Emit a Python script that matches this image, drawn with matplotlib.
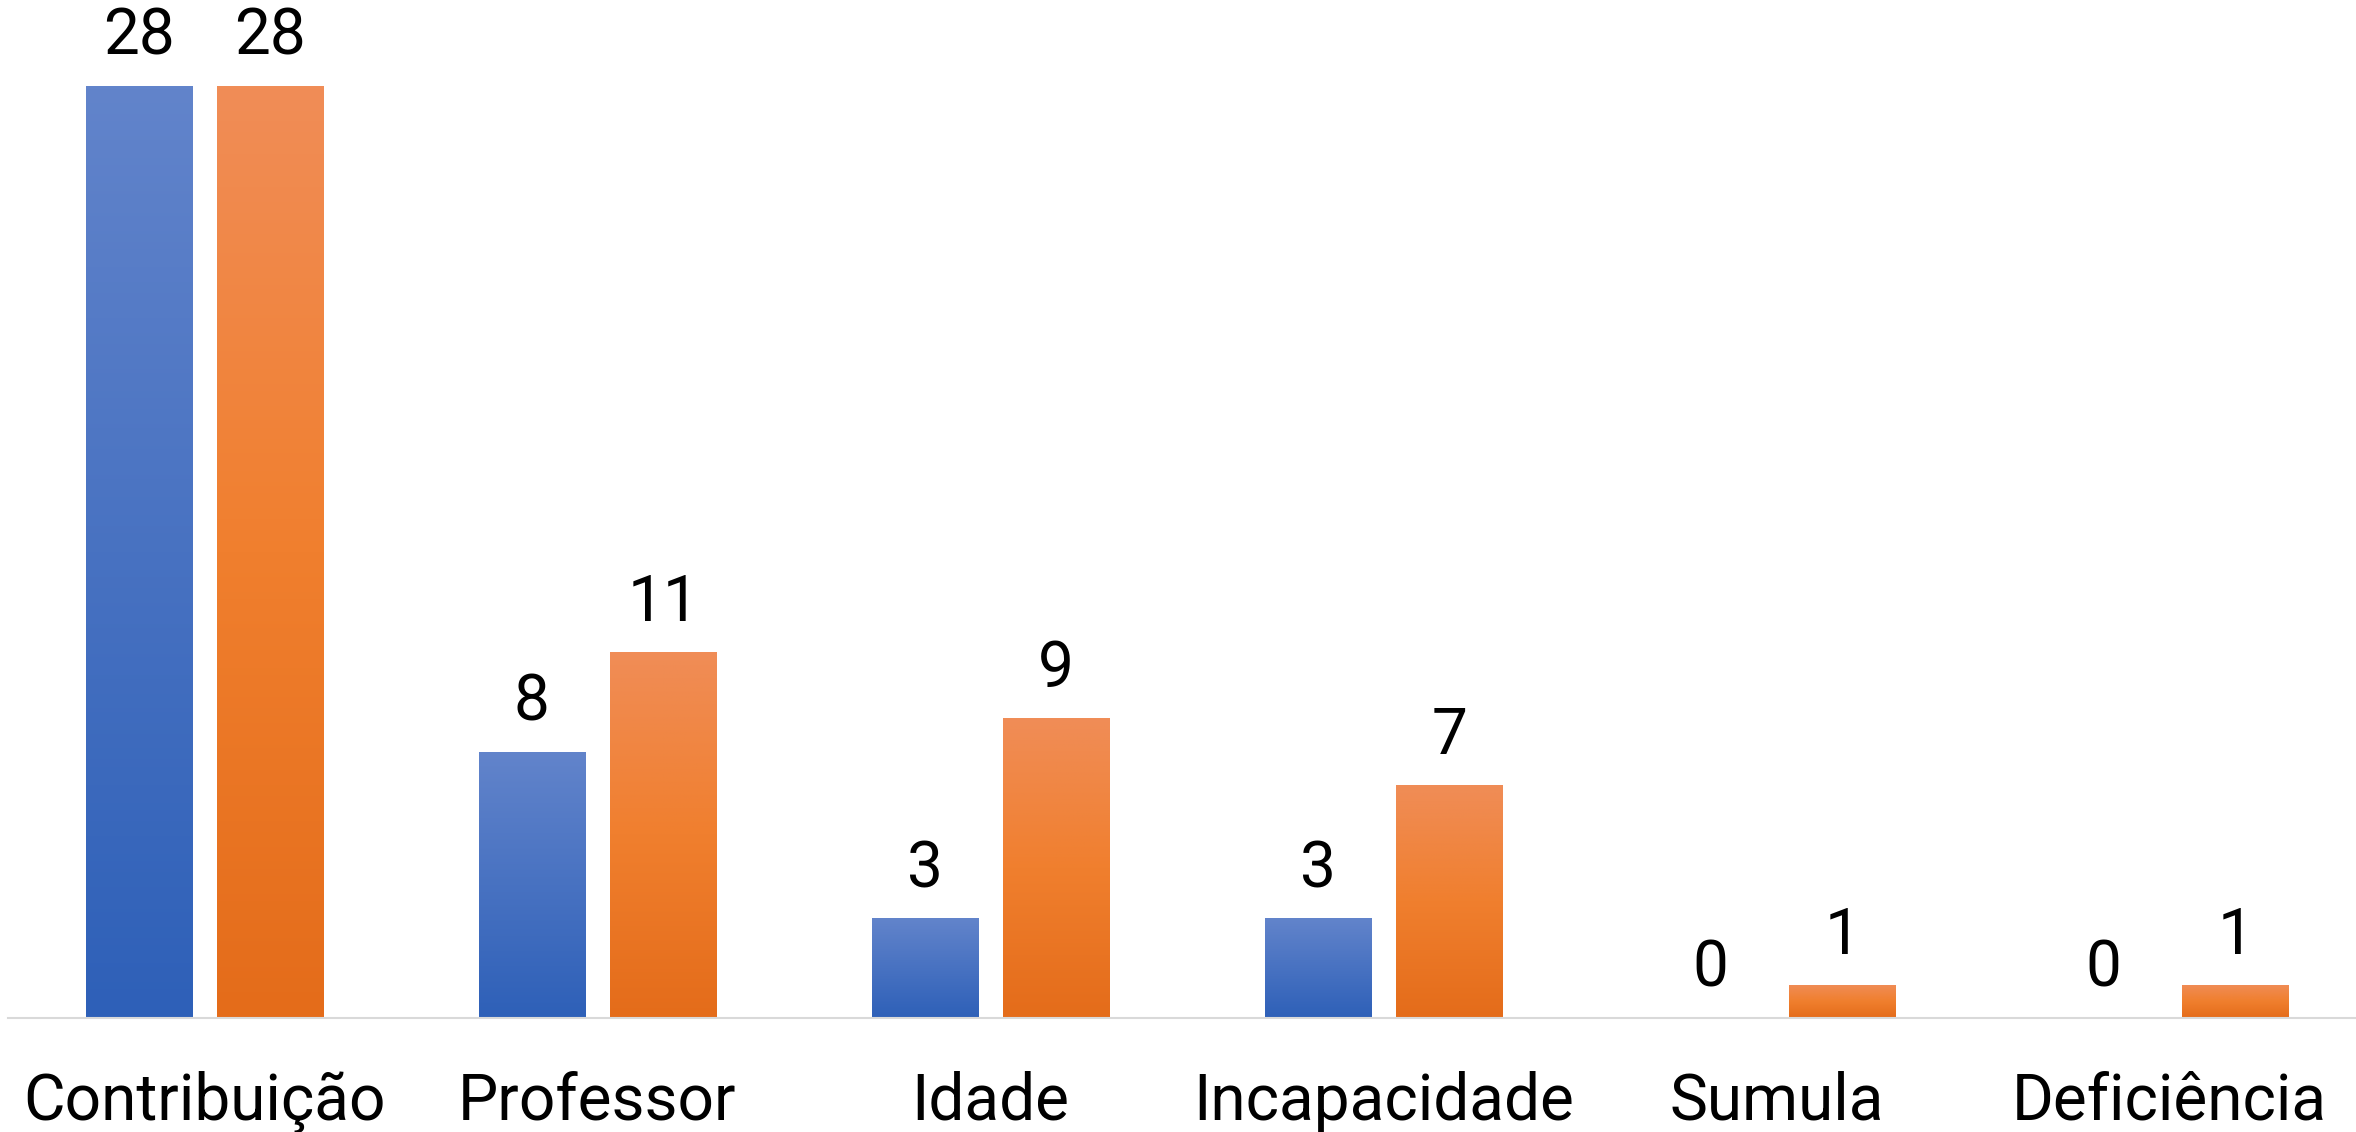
import numpy as np
import matplotlib
matplotlib.use("Agg")
import matplotlib.pyplot as plt
from matplotlib.colors import LinearSegmentedColormap

# data
categories = ["Contribuição", "Professor", "Idade", "Incapacidade", "Sumula", "Deficiência"]
serie_azul = [28, 8, 3, 3, 0, 0]
serie_laranja = [28, 11, 9, 7, 1, 1]

plt.rcParams['font.family'] = ['Roboto', 'DejaVu Sans']

fig = plt.figure(figsize=(23.56, 11.32), dpi=100)
ax = fig.add_axes([8 / 2356, (1132 - 1018) / 1132, 1 - 8 / 2356, 1018 / 1132])

x = np.arange(len(categories))
width = 0.27
offset = 0.1673

bars_a = ax.bar(x - offset, serie_azul, width, color="#4A72C4")
bars_l = ax.bar(x + offset, serie_laranja, width, color="#EC7B30")

blue_cmap = LinearSegmentedColormap.from_list("azul", ["#2E60B8", "#6284CB"])
orange_cmap = LinearSegmentedColormap.from_list("laranja", ["#E46C1A", "#F07F2E", "#F08D57"])
grad = np.linspace(0, 1, 256).reshape(-1, 1)

xmax = -0.5 + 2348 / 393
ax.set_xlim(-0.5, xmax)
ax.set_ylim(0, 30.57)

for bars, cmap in ((bars_a, blue_cmap), (bars_l, orange_cmap)):
    for b in bars:
        h = b.get_height()
        if h <= 0:
            continue
        x0 = b.get_x()
        # gradient from bottom to the top of each bar
        im = ax.imshow(grad, cmap=cmap, origin="lower", aspect="auto",
                       extent=[x0, x0 + b.get_width(), 0, h], zorder=2)
        im.set_clip_path(b)
        b.set_alpha(0)

ax.bar_label(bars_a, fontsize=46, padding=13)
ax.bar_label(bars_l, fontsize=46, padding=13)

ax.set_xticks(x)
ax.set_xticklabels(categories, fontsize=46)
ax.tick_params(axis="x", length=0, pad=38)
ax.set_yticks([])
for s in ("top", "right", "left"):
    ax.spines[s].set_visible(False)
ax.spines["bottom"].set_color("#D9D9D9")
ax.spines["bottom"].set_linewidth(1.5)
ax.set_xlim(-0.5, xmax)
ax.set_ylim(0, 30.57)

fig.savefig("out.png", dpi=100)
